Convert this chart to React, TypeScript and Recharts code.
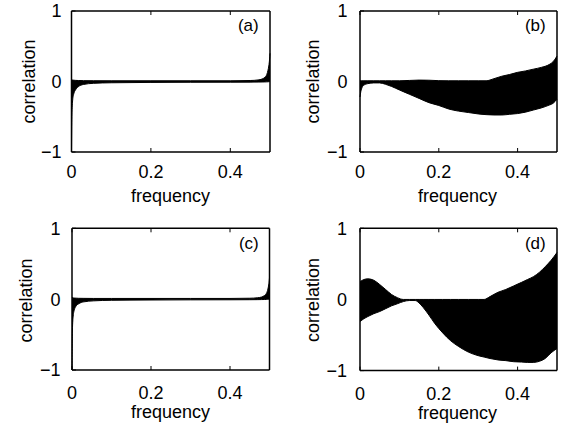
import React from 'react';
import { ComposedChart, Area, XAxis, YAxis } from 'recharts';

// ---- data: lower / upper envelope of the correlation band per panel ----
const freqA = [0, 0.001, 0.003, 0.006, 0.01, 0.017, 0.03, 0.055, 0.1, 0.2, 0.3, 0.4, 0.45, 0.47, 0.48, 0.487, 0.492, 0.495, 0.497, 0.499, 0.5];
const lowA = [-1, -0.5, -0.26, -0.17, -0.12, -0.075, -0.042, -0.026, -0.018, -0.013, -0.011, -0.01, -0.009, -0.008, -0.007, -0.006, -0.005, -0.004, -0.003, -0.002, 0];
const highA = [0.03, 0.025, 0.02, 0.018, 0.016, 0.014, 0.012, 0.011, 0.01, 0.01, 0.01, 0.01, 0.014, 0.022, 0.035, 0.06, 0.1, 0.16, 0.22, 0.32, 0.4];

const freqB = [0, 0.003, 0.01, 0.02, 0.035, 0.05, 0.065, 0.08, 0.1, 0.125, 0.15, 0.175, 0.2, 0.225, 0.25, 0.275, 0.3, 0.32, 0.34, 0.36, 0.38, 0.4, 0.42, 0.44, 0.46, 0.48, 0.49, 0.5];
const lowB = [-0.22, -0.12, -0.05, -0.03, -0.02, -0.02, -0.04, -0.07, -0.12, -0.18, -0.24, -0.3, -0.34, -0.39, -0.42, -0.44, -0.46, -0.47, -0.475, -0.475, -0.465, -0.455, -0.435, -0.405, -0.375, -0.335, -0.31, -0.25];
const highB = [0.01, 0.01, 0.01, 0.01, 0.01, 0.01, 0.01, 0.01, 0.01, 0.015, 0.02, 0.018, 0.012, 0.01, 0.01, 0.01, 0.01, 0.01, 0.04, 0.075, 0.1, 0.13, 0.15, 0.175, 0.2, 0.24, 0.28, 0.36];

const freqC = [0, 0.001, 0.003, 0.006, 0.01, 0.017, 0.03, 0.055, 0.1, 0.2, 0.3, 0.4, 0.45, 0.47, 0.48, 0.487, 0.492, 0.495, 0.497, 0.499, 0.5];
const lowC = [-1, -0.45, -0.24, -0.15, -0.1, -0.065, -0.038, -0.024, -0.016, -0.012, -0.01, -0.009, -0.008, -0.007, -0.006, -0.005, -0.004, -0.003, -0.002, -0.001, 0];
const highC = [0.03, 0.022, 0.018, 0.016, 0.014, 0.012, 0.011, 0.01, 0.01, 0.01, 0.01, 0.01, 0.013, 0.02, 0.03, 0.05, 0.08, 0.12, 0.17, 0.24, 0.3];

const freqD = [0, 0.01, 0.02, 0.035, 0.05, 0.065, 0.08, 0.095, 0.11, 0.125, 0.14, 0.15, 0.16, 0.175, 0.19, 0.21, 0.23, 0.25, 0.275, 0.3, 0.315, 0.33, 0.35, 0.37, 0.39, 0.41, 0.425, 0.44, 0.455, 0.47, 0.485, 0.5];
const lowD = [-0.31, -0.27, -0.24, -0.2, -0.17, -0.13, -0.09, -0.06, -0.03, -0.015, -0.015, -0.05, -0.11, -0.22, -0.34, -0.47, -0.58, -0.66, -0.74, -0.79, -0.81, -0.83, -0.85, -0.86, -0.875, -0.88, -0.885, -0.885, -0.87, -0.83, -0.75, -0.69];
const highD = [0.25, 0.28, 0.29, 0.27, 0.21, 0.14, 0.07, 0.025, 0.0, 0.0, 0.0, 0.0, 0.0, 0.0, 0.0, 0.0, 0.0, 0.0, 0.0, 0.0, 0.0, 0.04, 0.1, 0.14, 0.19, 0.24, 0.28, 0.32, 0.38, 0.46, 0.55, 0.66];

const xTicks = [0, 0.2, 0.4];
const yTicks = [-1, 0, 1];
const panelTags = ['(a)', '(b)', '(c)', '(d)'];
const xTitle = 'frequency';
const yTitle = 'correlation';

const FONT = '"Liberation Sans", Arial, Helvetica, sans-serif';
const W = 565;
const H = 429;

const fmtY = (v: number) => (v < 0 ? '\u2212' + Math.abs(v) : String(v));
const fmtX = (v: number) => String(v);

const makeRows = (f: number[], lo: number[], hi: number[]) =>
  f.map((x, i) => ({ f: x, band: [lo[i], hi[i]] }));

// plot-box geometry per panel (layout only)
const boxes = [
  { x: 71.5, y: 11, w: 198.5, h: 141, yGap: 10, xOff: 26, ytx: 34.5, yty: 81.5, xtx: 170.5, xty: 202, tagX: 248.3, tagY: 31.4 },
  { x: 360, y: 11, w: 197, h: 141, yGap: 12.5, xOff: 26, ytx: 318.7, yty: 81.5, xtx: 457.5, xty: 202, tagX: 535.3, tagY: 31.4 },
  { x: 72, y: 228.3, w: 197.5, h: 141.7, yGap: 11.5, xOff: 29, ytx: 32, yty: 300.5, xtx: 170.5, xty: 417.5, tagX: 248.8, tagY: 248.7 },
  { x: 360, y: 228.3, w: 197, h: 142.3, yGap: 13, xOff: 29, ytx: 319, yty: 300, xtx: 457.5, xty: 418.5, tagX: 535.3, tagY: 248.7 },
];

const panelData = [
  makeRows(freqA, lowA, highA),
  makeRows(freqB, lowB, highB),
  makeRows(freqC, lowC, highC),
  makeRows(freqD, lowD, highD),
];

const TICK_LEN = 4;

function Panel({ data, box }: { data: any[]; box: any }) {
  const margin = {
    left: box.x - 1,
    top: box.y - 1,
    right: W - (box.x + box.w) - 1,
    bottom: H - (box.y + box.h) - 1,
  };
  const frame = { stroke: '#000', strokeWidth: 1.5 };

  const bottomTick = (p: any) => (
    <g>
      <line x1={p.x} y1={p.y} x2={p.x} y2={p.y - TICK_LEN} stroke="#000" strokeWidth={1} />
      <text x={p.x} y={p.y + box.xOff} textAnchor="middle" fontSize={18} fontFamily={FONT} fill="#000">
        {fmtX(p.payload.value)}
      </text>
    </g>
  );
  const topTick = (p: any) => (
    <line x1={p.x} y1={p.y} x2={p.x} y2={p.y + TICK_LEN} stroke="#000" strokeWidth={1} />
  );
  const leftTick = (p: any) => (
    <g>
      <line x1={p.x} y1={p.y} x2={p.x + TICK_LEN} y2={p.y} stroke="#000" strokeWidth={1} />
      <text x={p.x - box.yGap} y={p.y + 6.4} textAnchor="end" fontSize={18} fontFamily={FONT} fill="#000">
        {fmtY(p.payload.value)}
      </text>
    </g>
  );
  const rightTick = (p: any) => (
    <line x1={p.x} y1={p.y} x2={p.x - TICK_LEN} y2={p.y} stroke="#000" strokeWidth={1} />
  );

  return (
    <div style={{ position: 'absolute', left: 0, top: 0, width: W, height: H }}>
      <ComposedChart width={W} height={H} data={data} margin={margin}>
        <XAxis
          dataKey="f"
          type="number"
          domain={[0, 0.5]}
          ticks={xTicks}
          interval={0}
          height={1}
          tickSize={0}
          tickMargin={0}
          axisLine={frame}
          tickLine={false}
          tick={bottomTick}
        />
        <XAxis
          xAxisId="top"
          orientation="top"
          dataKey="f"
          type="number"
          domain={[0, 0.5]}
          ticks={xTicks}
          interval={0}
          height={1}
          tickSize={0}
          tickMargin={0}
          axisLine={frame}
          tickLine={false}
          tick={topTick}
        />
        <YAxis
          type="number"
          domain={[-1, 1]}
          ticks={yTicks}
          interval={0}
          width={1}
          tickSize={0}
          tickMargin={0}
          axisLine={frame}
          tickLine={false}
          tick={leftTick}
        />
        <YAxis
          yAxisId="right"
          orientation="right"
          type="number"
          domain={[-1, 1]}
          ticks={yTicks}
          interval={0}
          width={1}
          tickSize={0}
          tickMargin={0}
          axisLine={frame}
          tickLine={false}
          tick={rightTick}
        />
        <Area
          type="monotone"
          dataKey="band"
          stroke="#000"
          strokeWidth={1}
          fill="#000"
          fillOpacity={1}
          dot={false}
          activeDot={false}
          isAnimationActive={false}
        />
      </ComposedChart>
    </div>
  );
}

export default function App() {
  return (
    <div style={{ position: 'absolute', left: 0, top: 0, width: W, height: H, background: '#fff', overflow: 'hidden' }}>
      {panelData.map((d, i) => (
        <Panel key={i} data={d} box={boxes[i]} />
      ))}
      <svg width={W} height={H} style={{ position: 'absolute', left: 0, top: 0 }}>
        {boxes.map((b, i) => (
          <g key={i} fontFamily={FONT} fill="#000">
            <text
              transform={`translate(${b.ytx},${b.yty}) rotate(-90)`}
              textAnchor="middle"
              fontSize={18}
            >
              {yTitle}
            </text>
            <text x={b.xtx} y={b.xty} textAnchor="middle" fontSize={18}>
              {xTitle}
            </text>
            <text x={b.tagX} y={b.tagY} textAnchor="middle" fontSize={17}>
              {panelTags[i]}
            </text>
          </g>
        ))}
      </svg>
    </div>
  );
}
